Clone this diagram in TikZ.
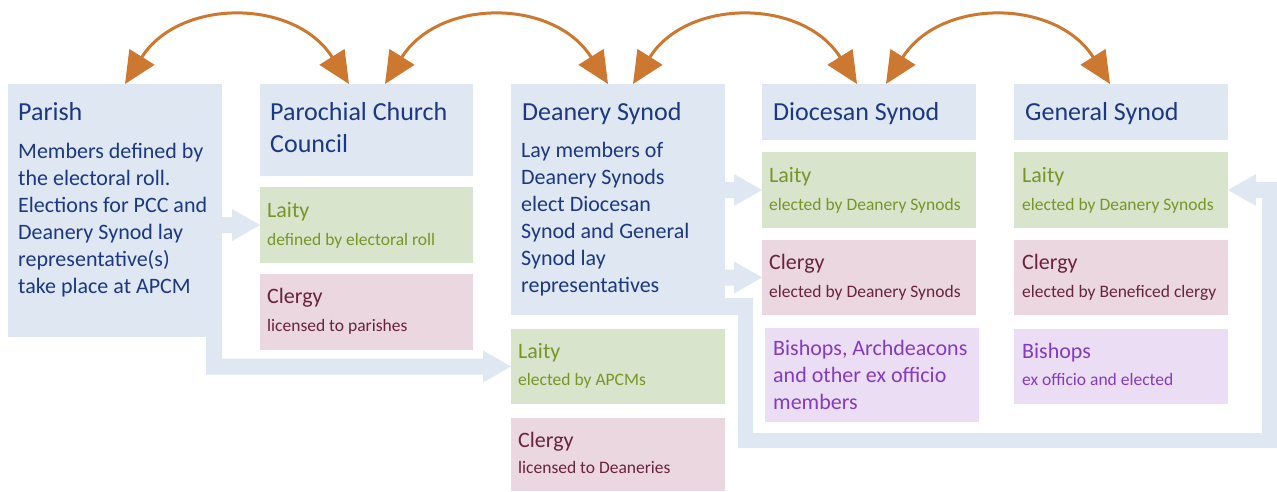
\documentclass[tikz,border=0pt]{standalone}
\usepackage{fontspec}
\setmainfont{Carlito}
\usetikzlibrary{arrows.meta,calc}
\definecolor{cBlue}{RGB}{222,231,242}
\definecolor{cGreen}{RGB}{216,228,203}
\definecolor{cPink}{RGB}{234,215,224}
\definecolor{cLav}{RGB}{234,221,244}
\definecolor{tBlue}{RGB}{28,56,128}
\definecolor{tGreen}{RGB}{118,150,40}
\definecolor{tMaroon}{RGB}{105,35,60}
\definecolor{tPurple}{RGB}{132,60,190}
\definecolor{cOrange}{RGB}{204,120,48}
\newcommand\fTitle{\fontsize{26pt}{32pt}\selectfont}
\newcommand\fBody{\fontsize{22pt}{27pt}\selectfont}
\newcommand\fSmall{\fontsize{17.5pt}{21pt}\selectfont}
\begin{document}
\begin{tikzpicture}[x=1pt,y=-1pt,
  box/.style 2 args={anchor=north west,inner sep=0pt,outer sep=0pt,minimum width=#1,minimum height=#2},
  txt/.style={anchor=base west,inner sep=0pt,align=left},
  flow/.style={fill=cBlue},
  link/.style={draw=cOrange,line width=3pt,{Triangle[length=32pt,width=29pt]}-{Triangle[length=32pt,width=29pt]}}]
\useasboundingbox (0,0) rectangle (1277,491);
% boxes
\node[box={214pt}{253pt},fill=cBlue] (parish) at (8,84) {};
\node[box={213pt}{92pt},fill=cBlue] (pcc) at (260,84) {};
\node[box={213pt}{76pt},fill=cGreen] (pccL) at (260,187) {};
\node[box={213pt}{76pt},fill=cPink] (pccC) at (260,274) {};
\node[box={214pt}{231pt},fill=cBlue] (ds) at (511,84) {};
\node[box={214pt}{75pt},fill=cGreen] (dsL) at (511,329) {};
\node[box={214pt}{73pt},fill=cPink] (dsC) at (511,418) {};
\node[box={214pt}{56pt},fill=cBlue] (dio) at (762,84) {};
\node[box={214pt}{76pt},fill=cGreen] (dioL) at (762,152) {};
\node[box={214pt}{75pt},fill=cPink] (dioC) at (762,240) {};
\node[box={214pt}{94pt},fill=cLav] (dioB) at (765,328) {};
\node[box={214pt}{56pt},fill=cBlue] (gs) at (1014,84) {};
\node[box={214pt}{76pt},fill=cGreen] (gsL) at (1014,152) {};
\node[box={214pt}{75pt},fill=cPink] (gsC) at (1014,240) {};
\node[box={214pt}{75pt},fill=cLav] (gsB) at (1014,329) {};
% flow arrows
\fill[flow] (pccL.west) -- ++(-28,-16) -- ++(0,8) -- ++(-40,0) -- ++(0,16) -- ++(40,0) -- ++(0,8) -- cycle;
\fill[flow] (dioL.west) -- ++(-28,-16) -- ++(0,8) -- ++(-40,0) -- ++(0,16) -- ++(40,0) -- ++(0,8) -- cycle;
\fill[flow] (dioC.west) -- ++(-28,-16) -- ++(0,8) -- ++(-40,0) -- ++(0,16) -- ++(40,0) -- ++(0,8) -- cycle;
\fill[flow] (dsL.west) -- ++(-28,-16) -- ++(0,8) -- (222,358.5) -- (222,330) -- (206,330) -- (206,374.5) -- ($(dsL.west)+(-28,8)$) -- ++(0,8) -- cycle;
\fill[flow] (gsL.east) -- ++(28,-16) -- ++(0,8) -- (1277,182) -- (1277,448) -- (738,448) -- (738,315) -- (720,315) -- (720,298) -- (753,298) -- (753,433) -- (1262,433) -- (1262,198) -- ($(gsL.east)+(28,8)$) -- ++(0,8) -- cycle;
% texts (base anchor of a multi-line node is its last line)
\node[txt,tBlue,font=\fTitle] (parishT) at (18,120) {Parish};
\node[txt,tBlue,font=\fBody] (parishB) at (18,293) {Members defined by\\the electoral roll.\\Elections for PCC and\\Deanery Synod lay\\representative(s)\\take place at APCM};
\node[txt,tBlue,font=\fTitle] (pccT) at (270,152) {Parochial Church\\Council};
\node[txt,tGreen,font=\fBody] (pccLT) at (267,217) {Laity};
\node[txt,tGreen,font=\fSmall] (pccLS) at (267,245) {defined by electoral roll};
\node[txt,tMaroon,font=\fBody] (pccCT) at (267,303) {Clergy};
\node[txt,tMaroon,font=\fSmall] (pccCS) at (267,331) {licensed to parishes};
\node[txt,tBlue,font=\fTitle] (dsT) at (522,120) {Deanery Synod};
\node[txt,tBlue,font=\fBody] (dsB) at (521,292) {Lay members of\\Deanery Synods\\elect Diocesan\\Synod and General\\Synod lay\\representatives};
\node[txt,tGreen,font=\fBody] (dsLT) at (518,358) {Laity};
\node[txt,tGreen,font=\fSmall] (dsLS) at (518,385) {elected by APCMs};
\node[txt,tMaroon,font=\fBody] (dsCT) at (518,447) {Clergy};
\node[txt,tMaroon,font=\fSmall] (dsCS) at (518,473) {licensed to Deaneries};
\node[txt,tBlue,font=\fTitle] (dioT) at (773,120) {Diocesan Synod};
\node[txt,tGreen,font=\fBody] (dioLT) at (769,182) {Laity};
\node[txt,tGreen,font=\fSmall] (dioLS) at (769,210) {elected by Deanery Synods};
\node[txt,tMaroon,font=\fBody] (dioCT) at (769,269) {Clergy};
\node[txt,tMaroon,font=\fSmall] (dioCS) at (769,297) {elected by Deanery Synods};
\node[txt,tPurple,font=\fBody] (dioBT) at (773,409) {Bishops, Archdeacons\\and other ex officio\\members};
\node[txt,tBlue,font=\fTitle] (gsT) at (1025,120) {General Synod};
\node[txt,tGreen,font=\fBody] (gsLT) at (1022,182) {Laity};
\node[txt,tGreen,font=\fSmall] (gsLS) at (1022,210) {elected by Deanery Synods};
\node[txt,tMaroon,font=\fBody] (gsCT) at (1022,269) {Clergy};
\node[txt,tMaroon,font=\fSmall] (gsCS) at (1022,297) {elected by Beneficed clergy};
\node[txt,tPurple,font=\fBody] (gsBT) at (1022,358) {Bishops};
\node[txt,tPurple,font=\fSmall] (gsBS) at (1022,385) {ex officio and elected};
% orange links
\draw[link] ($(parish.north west)+(117,0)$) .. controls +(54,-86) and +(-54,-86) .. ($(pcc.north west)+(89,0)$);
\draw[link] ($(pcc.north west)+(125,0)$) .. controls +(54,-86) and +(-54,-86) .. ($(ds.north west)+(97,0)$);
\draw[link] ($(ds.north west)+(122,0)$) .. controls +(54,-86) and +(-54,-86) .. ($(dio.north west)+(95,0)$);
\draw[link] ($(dio.north west)+(124,0)$) .. controls +(54,-86) and +(-54,-86) .. ($(gs.north west)+(96,0)$);
\end{tikzpicture}
\end{document}
